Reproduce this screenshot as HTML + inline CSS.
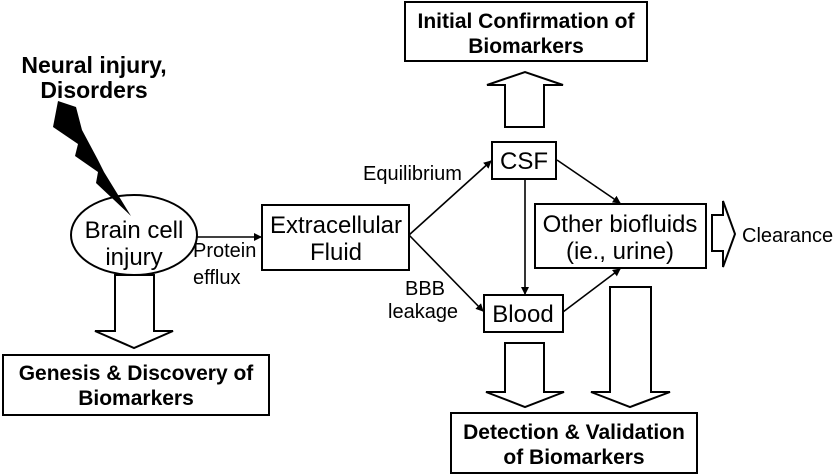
<!DOCTYPE html>
<html><head><style>
body{margin:0;background:#fff;}
svg{display:block;}
text{font-family:"Liberation Sans",Arial,sans-serif;fill:#000;}
.b{font-weight:bold;font-size:21px;}
.n{font-size:24px;}
.s{font-size:20px;}
</style></head><body>
<svg width="836" height="474" viewBox="0 0 836 474">
<defs><marker id="a" markerWidth="8" markerHeight="8" refX="7" refY="4" orient="auto" markerUnits="userSpaceOnUse"><path d="M0,0 L8,4 L0,8 z" fill="#000"/></marker></defs>
<g fill="none" stroke="#000" stroke-width="2">
<rect x="405" y="2" width="242" height="59"/>
<rect x="3" y="355" width="266" height="60"/>
<rect x="262" y="205" width="147" height="65"/>
<rect x="492" y="142" width="64" height="37"/>
<rect x="484" y="295" width="79" height="37"/>
<rect x="535" y="204" width="171" height="64"/>
<rect x="451" y="413" width="246" height="60"/>
<ellipse cx="134" cy="235" rx="63" ry="40"/>
<path d="M115,275 L154,275 L154,331 L173,331 L134,348 L95,331 L115,331 Z"/>
<path d="M505,127 L544,127 L544,85 L563,85 L525,72 L487,85 L505,85 Z"/>
<path d="M505,343 L544,343 L544,392 L564,392 L525,407 L486,392 L505,392 Z"/>
<path d="M610,287 L651,287 L651,392 L670,392 L630,407 L591,392 L610,392 Z"/>
<path d="M712,215 L723,215 L723,201 L735,234 L723,267 L723,251 L712,251 Z"/>
</g>
<g stroke="#000" stroke-width="1.6" fill="none">
<line x1="197" y1="237" x2="261" y2="237" marker-end="url(#a)"/>
<line x1="409" y1="235" x2="491" y2="161" marker-end="url(#a)"/>
<line x1="409" y1="235" x2="483" y2="311" marker-end="url(#a)"/>
<line x1="525" y1="179" x2="525" y2="294" marker-end="url(#a)"/>
<line x1="563" y1="312" x2="620" y2="269" marker-end="url(#a)"/>
<line x1="557" y1="160" x2="620" y2="203" marker-end="url(#a)"/>
</g>
<polygon points="58,101 76,107 82,130 98,160 104,172 131,216 96,183 98,172 75,156 78,144 53,127" fill="#000"/>
<text class="b" x="94" y="73" text-anchor="middle" style="font-size:23px">Neural injury,</text>
<text class="b" x="94" y="98" text-anchor="middle" style="font-size:23px">Disorders</text>
<text class="n" x="134" y="238" text-anchor="middle">Brain cell</text>
<text class="n" x="134" y="265" text-anchor="middle">injury</text>
<text class="s" x="193" y="257">Protein</text>
<text class="s" x="193" y="284">efflux</text>
<text class="n" x="336" y="233" text-anchor="middle">Extracellular</text>
<text class="n" x="336" y="260" text-anchor="middle">Fluid</text>
<text class="b" x="136" y="380" text-anchor="middle">Genesis &amp; Discovery of</text>
<text class="b" x="136" y="405" text-anchor="middle">Biomarkers</text>
<text class="b" x="526" y="28" text-anchor="middle">Initial Confirmation of</text>
<text class="b" x="526" y="53" text-anchor="middle">Biomarkers</text>
<text class="s" x="363" y="180">Equilibrium</text>
<text class="n" x="524" y="169" text-anchor="middle">CSF</text>
<text class="s" x="405" y="295">BBB</text>
<text class="s" x="388" y="318">leakage</text>
<text class="n" x="523" y="322" text-anchor="middle">Blood</text>
<text class="n" x="620" y="232" text-anchor="middle">Other biofluids</text>
<text class="n" x="620" y="259" text-anchor="middle">(ie., urine)</text>
<text class="s" x="742" y="242">Clearance</text>
<text class="b" x="574" y="439" text-anchor="middle">Detection &amp; Validation</text>
<text class="b" x="574" y="464" text-anchor="middle">of Biomarkers</text>
</svg>
</body></html>
